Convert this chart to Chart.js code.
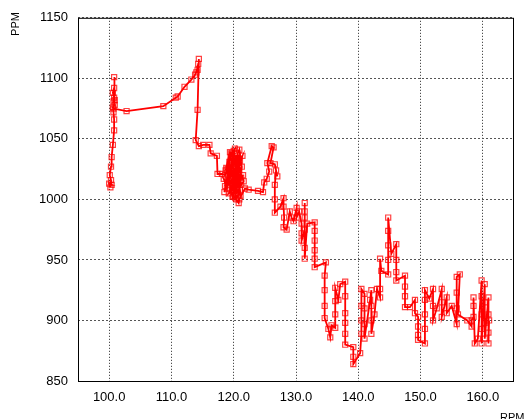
<!DOCTYPE html>
<html>
<head>
<meta charset="utf-8">
<script src="https://cdn.jsdelivr.net/npm/chart.js@4.4.1/dist/chart.umd.min.js"></script>
<style>
  html, body { margin: 0; padding: 0; background: #fff; }
  #wrap { width: 532px; height: 419px; }
</style>
</head>
<body>
<div id="wrap"><canvas id="chart" width="532" height="419"></canvas></div>
<script>
// engine speed (RPM) and reading (PPM), in drawing order
const rpm = [
  100.2, 100.0, 100.4, 100.3, 100.1, 100.3, 100.4, 100.6, 100.8, 100.8,
  100.7, 100.6, 100.9, 100.7, 100.8, 100.6, 100.8, 100.8, 100.9, 100.7,
  102.8, 108.7, 110.7, 111.0, 112.1, 113.2, 113.8, 114.2, 114.0, 114.3,
  114.4, 114.2, 113.9, 114.4, 115.1, 116.1, 116.3, 117.3, 117.4, 118.1,
  118.6, 119.0, 119.3, 119.8, 119.1, 120.2, 119.5, 120.0, 120.5, 119.7,
  120.8, 119.2, 120.3, 121.0, 120.6, 121.2, 119.9, 120.4, 121.0, 120.1,
  119.4, 120.9, 121.3, 120.7, 121.5, 120.0, 119.6, 120.5, 121.1, 118.4,
  118.9, 119.3, 118.7, 119.6, 120.2, 118.5, 119.0, 120.7, 121.4, 120.3,
  119.8, 118.8, 119.4, 120.9, 121.6, 120.4, 119.1, 118.6, 120.0, 120.6,
  121.2, 119.7, 120.8, 120.3, 120.8, 120.9, 121.8, 122.4, 123.9, 124.7,
  124.9, 125.3, 125.7, 125.4, 126.1, 126.4, 125.9, 126.6, 127.0, 126.8,
  126.6, 126.6, 126.6, 127.5, 128.0, 128.0, 128.1, 128.0, 128.5, 129.0,
  129.3, 129.6, 130.1, 130.1, 130.5, 130.9, 130.9, 130.9, 131.4, 131.4,
  131.4, 131.4, 131.4, 131.4, 131.8, 133.0, 133.0, 133.0, 133.0, 133.0,
  133.0, 134.8, 134.6, 134.6, 134.6, 134.6, 135.2, 135.5, 135.7, 136.3,
  136.3, 136.3, 136.3, 136.8, 137.1, 137.9, 137.9, 137.9, 137.9, 137.9,
  137.9, 139.2, 139.2, 139.2, 140.3, 140.5, 140.5, 140.5, 140.5, 141.0,
  141.0, 141.0, 141.0, 141.9, 142.1, 142.1, 142.1, 142.1, 142.6, 143.0,
  143.5, 143.5, 143.5, 143.7, 144.8, 144.8, 144.8, 144.8, 144.8, 145.3,
  146.1, 146.1, 146.1, 146.1, 147.5, 147.5, 147.5, 147.5, 148.3, 149.1,
  149.1, 149.6, 149.6, 149.6, 149.6, 150.7, 150.7, 150.7, 150.7, 150.7,
  151.4, 152.0, 152.0, 152.0, 152.6, 153.4, 153.4, 153.4, 154.2, 154.2,
  155.0, 155.8, 155.8, 155.8, 155.8, 156.3, 156.0, 157.5, 158.2, 158.2,
  158.5, 158.5, 158.5, 158.7, 159.2, 159.8, 159.8, 159.8, 159.8, 159.8,
  160.3, 160.3, 160.3, 160.3, 160.9, 160.9, 160.9, 160.9, 161.0
];
const ppm = [
  1010, 1013, 1012, 1016, 1020, 1027, 1035, 1045, 1057, 1066,
  1072, 1076, 1078, 1081, 1084, 1088, 1092, 1101, 1082, 1075,
  1073, 1077, 1084, 1085, 1093, 1099, 1103, 1107, 1105, 1112,
  1116, 1074, 1049, 1044, 1045, 1045, 1038, 1036, 1021, 1021,
  1020, 1025, 1018, 1030, 1012, 1020, 1035, 1040, 1028, 1015,
  1022, 1005, 1010, 1032, 1038, 1018, 1003, 1000, 1008, 1025,
  1022, 1041, 1027, 1012, 1020, 1008, 1028, 1034, 1003, 1017,
  1009, 1031, 1024, 1038, 1042, 1006, 1014, 1030, 1036, 1016,
  1002, 1026, 1039, 1024, 1015, 1005, 1019, 1011, 1033, 1021,
  1012, 1007, 1028, 1001, 997, 1000, 1009, 1008, 1007, 1006,
  1014, 1017, 1023, 1030, 1044, 1043, 1030, 1029, 1019, 1024,
  1012, 1000, 989, 994, 1001, 994, 985, 977, 975, 990,
  985, 982, 993, 985, 990, 980, 972, 966, 975, 985,
  997, 990, 960, 951, 980, 981, 974, 966, 958, 951,
  944, 948, 937, 925, 912, 902, 893, 886, 896, 894,
  905, 916, 927, 917, 930, 932, 920, 906, 898, 889,
  880, 878, 870, 864, 873, 889, 900, 912, 926, 922,
  910, 897, 885, 917, 925, 912, 900, 889, 905, 926,
  919, 926, 951, 941, 938, 950, 962, 974, 985, 955,
  963, 950, 940, 933, 937, 928, 920, 911, 911, 917,
  906, 903, 895, 888, 884, 881, 893, 905, 917, 925,
  918, 926, 912, 900, 910, 926, 915, 903, 919, 906,
  912, 897, 910, 923, 936, 938, 905, 900, 895, 900,
  903, 912, 919, 881, 885, 933, 920, 905, 893, 881,
  930, 915, 898, 885, 919, 905, 890, 881, 900
];
const xTicks = [100, 110, 120, 130, 140, 150, 160];
const yTicks = [850, 900, 950, 1000, 1050, 1100, 1150];

const points = rpm.map((x, i) => ({ x, y: ppm[i] }));

const FONT = 'Liberation Sans, Arial, sans-serif';

// frame around plot area + axis titles placed like the original
const framePlugin = {
  id: 'frame',
  afterDraw(chart) {
    const { ctx, chartArea: a } = chart;
    ctx.save();
    ctx.strokeStyle = '#000';
    ctx.lineWidth = 1;
    ctx.strokeRect(a.left + 0.5, a.top + 0.5, a.right - a.left - 1, a.bottom - a.top);
    ctx.fillStyle = '#000';
    ctx.font = '11px ' + FONT;
    ctx.textAlign = 'left';
    ctx.textBaseline = 'top';
    ctx.fillText('RPM', 500, 412);
    ctx.translate(20, 24);
    ctx.rotate(-Math.PI / 2);
    ctx.textAlign = 'center';
    ctx.textBaseline = 'middle';
    ctx.fillText('PPM', 0, -4);
    ctx.restore();
  }
};

new Chart(document.getElementById('chart'), {
  type: 'scatter',
  data: {
    datasets: [{
      data: points,
      showLine: true,
      tension: 0,
      borderColor: '#ff0000',
      borderWidth: 1.8,
      pointStyle: 'rect',
      pointRadius: 3.6,
      pointBorderWidth: 1.2,
      pointBorderColor: 'rgba(255, 0, 0, 0.75)',
      pointBackgroundColor: 'rgba(0, 0, 0, 0)'
    }]
  },
  options: {
    responsive: false,
    animation: false,
    events: [],
    layout: { padding: { top: 16, right: 18, left: 0, bottom: 0 } },
    plugins: { legend: { display: false }, tooltip: { enabled: false } },
    scales: {
      x: {
        type: 'linear',
        min: 95,
        max: 165,
        afterBuildTicks: s => { s.ticks = xTicks.map(v => ({ value: v })); },
        afterFit: s => { s.height = 38; },
        ticks: {
          color: '#000',
          padding: 9,
          font: { family: FONT, size: 13 },
          callback: v => v.toFixed(1)
        },
        grid: { color: '#222', lineWidth: 1, drawTicks: false },
        border: { display: false, dash: [1, 2] }
      },
      y: {
        type: 'linear',
        min: 850,
        max: 1150,
        afterBuildTicks: s => { s.ticks = yTicks.map(v => ({ value: v })); },
        afterFit: s => { s.width = 78; },
        ticks: {
          color: '#000',
          padding: 10,
          font: { family: FONT, size: 13 },
          callback: v => String(v)
        },
        grid: { color: '#555', lineWidth: 1, drawTicks: false },
        border: { display: false, dash: [2, 2] }
      }
    }
  },
  plugins: [framePlugin]
});
</script>
</body>
</html>
